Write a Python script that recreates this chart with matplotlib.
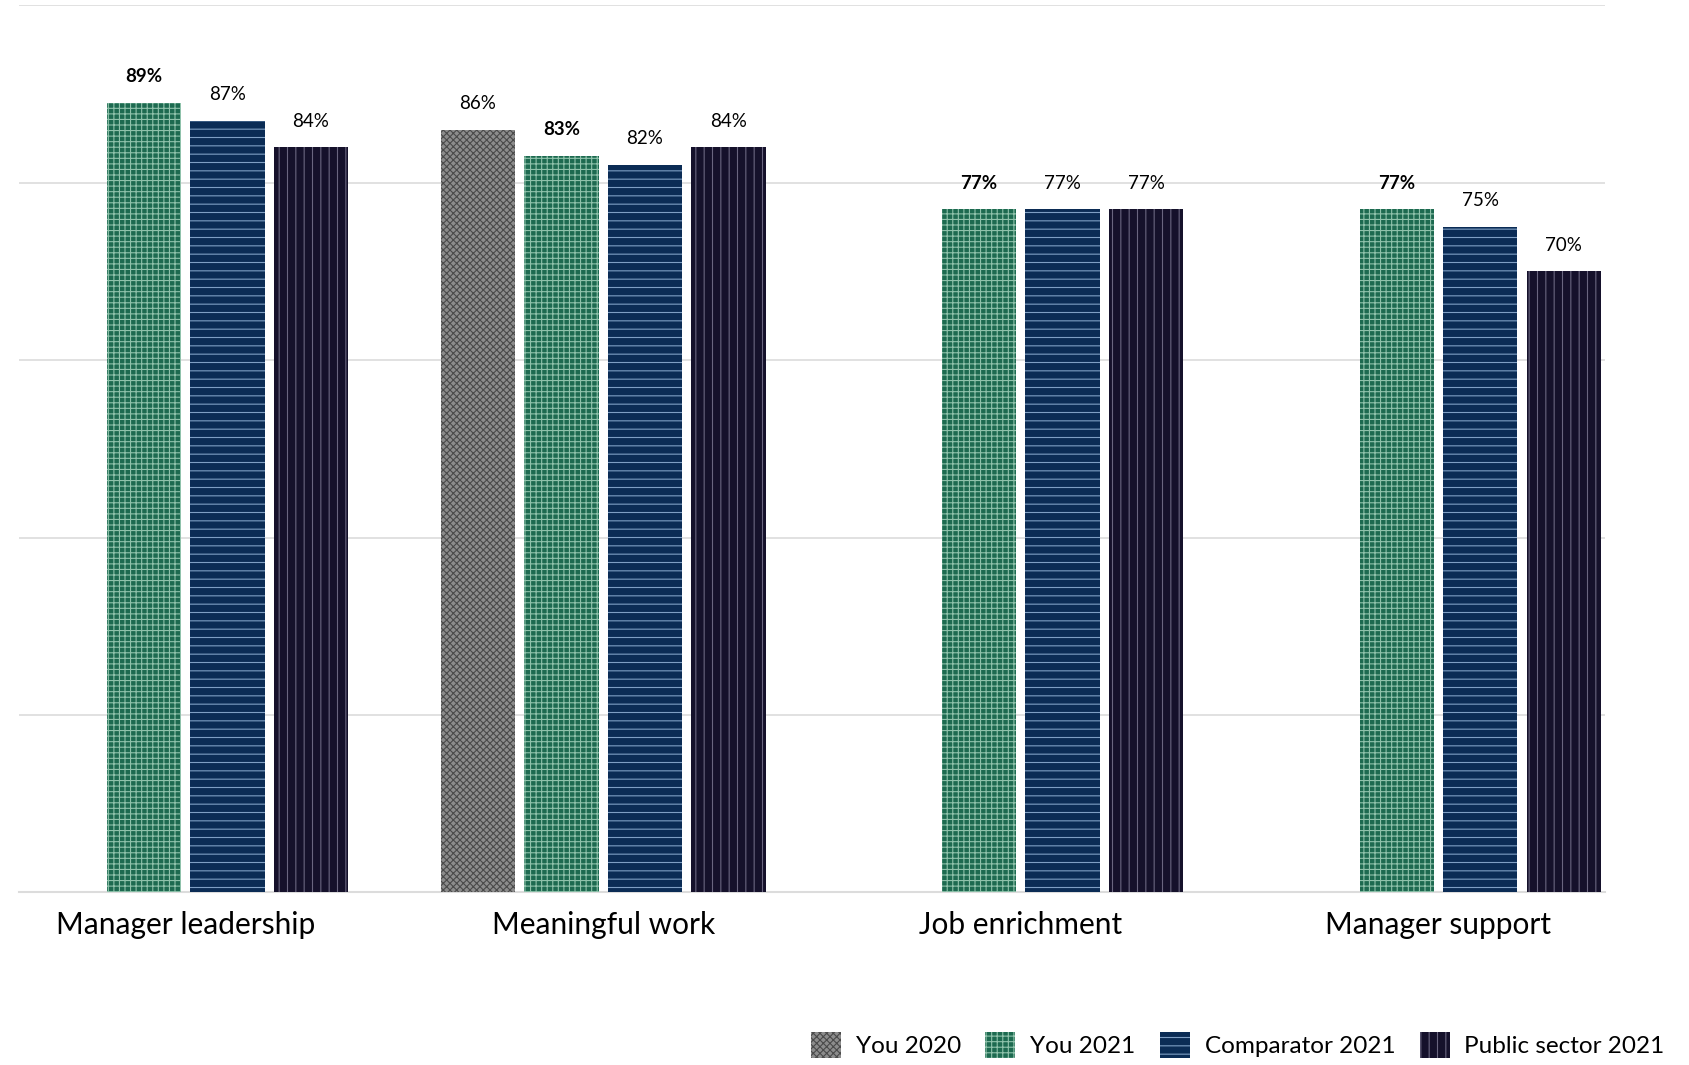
import numpy as np
import matplotlib.pyplot as plt
from matplotlib.patches import Patch

plt.rcParams['font.family'] = ['Lato', 'DejaVu Sans']
plt.rcParams['hatch.linewidth'] = 0.8

# Données
categories = ['Manager leadership', 'Meaningful work', 'Job enrichment', 'Manager support']
series = ['You 2020', 'You 2021', 'Comparator 2021', 'Public sector 2021']
you_2020 = [np.nan, 86, np.nan, np.nan]
you_2021 = [89, 83, 77, 77]
comparator_2021 = [87, 82, 77, 75]
public_2021 = [84, 84, 77, 70]

valores = [you_2020, you_2021, comparator_2021, public_2021]
cores = ['#8c8c8c', '#1d6a50', '#0b2c55', '#15112b']
hatch_cores = ['#4a4a4a', '#8fc2ab', '#7f9fc4', '#6a6680']
hatches = ['xxxxx', '+++', '--', '||']
negrito = [False, True, False, False]

fig, ax = plt.subplots(figsize=(16.9, 10.65), dpi=100)
fig.subplots_adjust(left=0.011, right=0.95, top=0.995, bottom=0.162)

x = np.arange(len(categories))
slot = 0.2
largura = 0.178

for i, vals in enumerate(valores):
    pos = x + (i - 1.5) * slot
    ax.bar(pos, vals, width=largura, color=cores[i], edgecolor=hatch_cores[i],
           hatch=hatches[i], linewidth=0, zorder=3)
    for xp, v in zip(pos, vals):
        if np.isnan(v):
            continue
        ax.text(xp, v + 2.0, '{:.0f}%'.format(v), ha='center', va='bottom',
                fontsize=13.5, color='black',
                fontweight='bold' if negrito[i] else 'normal')

ax.set_ylim(0, 100)
ax.set_xlim(-0.4, 3.4)
ax.set_yticks(np.arange(0, 101, 20))
ax.yaxis.grid(True, color='#dcdcdc', linewidth=1.2, zorder=0)
ax.tick_params(axis='y', left=False, labelleft=False)
ax.tick_params(axis='x', bottom=False, pad=10)
ax.set_xticks(x)
ax.set_xticklabels(categories, fontsize=21.5)
for lado in ['top', 'right', 'left']:
    ax.spines[lado].set_visible(False)
ax.spines['bottom'].set_color('#dcdcdc')
ax.spines['bottom'].set_linewidth(1.5)

# Legenda
handles = [Patch(facecolor=cores[i], edgecolor=hatch_cores[i], hatch=hatches[i],
                 linewidth=0, label=series[i]) for i in range(4)]
fig.legend(handles=handles, loc='lower right', bbox_to_anchor=(0.998, -0.014),
           ncol=4, frameon=False, fontsize=17.5, handlelength=1.25,
           handleheight=1.3, columnspacing=1.0, handletextpad=0.6)

plt.savefig('out.png')
